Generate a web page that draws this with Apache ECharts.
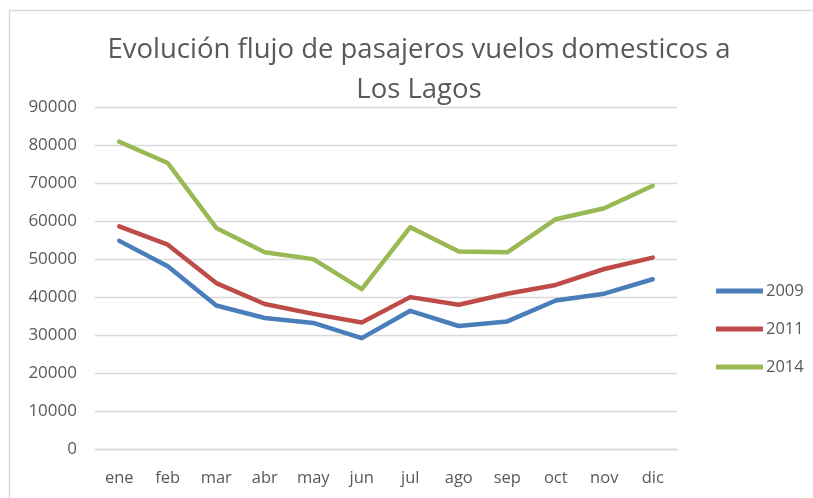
<!DOCTYPE html>
<html>
<head>
<meta charset="utf-8">
<script src="https://cdn.jsdelivr.net/npm/echarts@6/dist/echarts.min.js"></script>
<style>
html,body{margin:0;padding:0;background:#fff;}
#c{width:813px;height:498px;}
</style>
</head>
<body>
<div id="c"></div>
<script>
const titleText = 'Evolución flujo de pasajeros vuelos domesticos a\nLos Lagos';
const months = ['ene','feb','mar','abr','may','jun','jul','ago','sep','oct','nov','dic'];
const seriesNames = ['2009','2011','2014'];
const v2009 = [54900,48200,37900,34600,33300,29300,36500,32500,33700,39200,41000,44800];
const v2011 = [58700,53900,43800,38300,35700,33400,40100,38100,41000,43300,47500,50500];
const v2014 = [81000,75400,58300,51900,50100,42200,58500,52100,51900,60600,63500,69400];
const colors = ['#4A7EBB','#BE4B48','#98B954'];
const FONT = "'Open Sans', sans-serif";

const chart = echarts.init(document.getElementById('c'));
const data = [v2009, v2011, v2014];
chart.setOption({
  animation: false,
  backgroundColor: '#fff',
  title: {
    text: titleText,
    left: 414,
    top: 25,
    textAlign: 'center',
    textStyle: {fontFamily: FONT, fontSize: 27.5, fontWeight: 'normal', color: '#595959', lineHeight: 40}
  },
  graphic: [{
    type: 'polyline',
    shape: {points: [[9.5, 700], [9.5, 10.5], [1200, 10.5]]},
    style: {fill: 'none', stroke: '#d9d9d9', lineWidth: 1.5},
    silent: true, z: -1
  }],
  legend: {
    orient: 'vertical',
    left: 711,
    top: 276,
    itemWidth: 47,
    itemHeight: 5,
    itemGap: 18,
    icon: 'rect',
    data: seriesNames,
    textStyle: {fontFamily: FONT, fontSize: 16.5, color: '#595959', lineHeight: 20, padding: [0,0,0,-2]}
  },
  grid: {left: 95, right: 136, top: 107.5, bottom: 48.5},
  xAxis: {
    type: 'category',
    data: months,
    boundaryGap: true,
    axisLine: {show: true, lineStyle: {color: '#d9d9d9', width: 1.3}},
    axisTick: {show: false},
    axisLabel: {fontFamily: FONT, fontSize: 16.5, color: '#595959', margin: 20}
  },
  yAxis: {
    type: 'value',
    min: 0, max: 90000, interval: 10000,
    axisLine: {show: false},
    axisTick: {show: false},
    splitLine: {lineStyle: {color: '#d9d9d9', width: 1.3}},
    axisLabel: {fontFamily: FONT, fontSize: 17, color: '#595959', margin: 18, formatter: v => String(v)}
  },
  series: seriesNames.map((n, i) => ({
    name: n,
    type: 'line',
    data: data[i],
    symbol: 'none',
    color: colors[i],
    lineStyle: {width: 4.5, color: colors[i], join: 'round', cap: 'round'}
  }))
});
</script>
</body>
</html>
